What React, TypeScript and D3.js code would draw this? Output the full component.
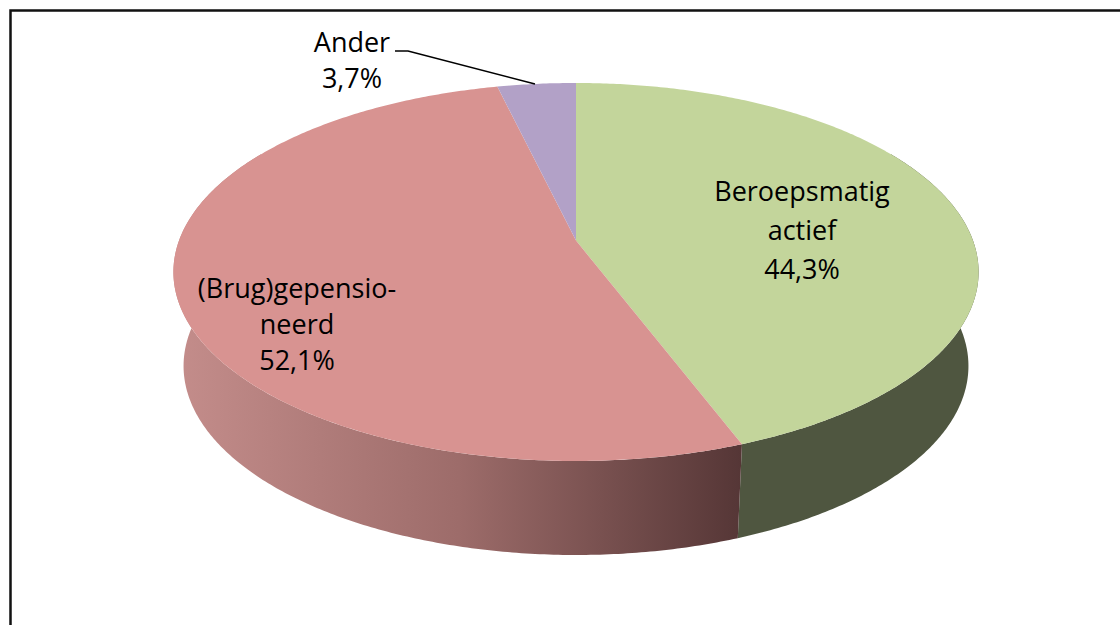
import React from 'react'
import * as d3 from 'd3'

// slice data (Excel 3D pie, starting at 12 o'clock, clockwise)
const labels = ['Beroepsmatig actief', '(Brug)gepensioneerd', 'Ander']
const values = [44.3, 52.1, 3.7]
const valueText = ['44,3%', '52,1%', '3,7%']
const labelLines = [['Beroepsmatig', 'actief'], ['(Brug)gepensio-', 'neerd'], ['Ander']]
const topColors = ['#c3d59b', '#d89391', '#b2a1c7']

const W = 1120
const H = 625

// perspective projection of the unit circle: front (v > 0) is enlarged
const k = 0.166
type Face = { cx: number; cy: number; rx: number; ry: number }
const top: Face = { cx: 576, cy: 240.6, rx: 397, ry: 183.8 }
const bot: Face = { cx: 576, cy: 334.6, rx: 387, ry: 183.8 }

const pt = (e: Face, a: number): [number, number] => {
  const u = Math.sin(a)
  const v = -Math.cos(a)
  const s = 1 / (1 - k * v)
  return [e.cx + e.rx * u * s, e.cy + e.ry * v * s]
}

const arcPoints = (e: Face, a0: number, a1: number) => {
  const n = Math.max(2, Math.ceil(Math.abs(a1 - a0) / 0.01))
  return d3.range(n + 1).map(i => pt(e, a0 + (a1 - a0) * i / n))
}

const line = d3.line()

const App = () => {
  const pie = d3.pie<number>().sort(null).value(d => d)
  const arcs = pie(values)

  // visible wall range: the front half, a little wider for the perspective
  const wallMin = Math.PI * 0.33
  const wallMax = Math.PI * 1.67

  const walls = arcs.map((a, i) => {
    const a0 = Math.max(a.startAngle, wallMin)
    const a1 = Math.min(a.endAngle, wallMax)
    if (a1 <= a0) return null
    const pts = [...arcPoints(top, a0, a1), ...arcPoints(bot, a1, a0)]
    return { i, d: line(pts) + 'Z' }
  }).filter(Boolean) as { i: number; d: string }[]

  const wallFill = ['#4f5640', 'url(#pinkSide)', '#5f5470']

  const apex: [number, number] = [top.cx, top.cy] // centre of the disc
  const tops = arcs.map((a, i) => {
    const pts: [number, number][] = [apex, ...arcPoints(top, a.startAngle, a.endAngle)]
    return { i, d: line(pts) + 'Z' }
  })

  const font = "'Open Sans', sans-serif"
  const fs = 27

  return (
    <svg width={W} height={H} style={{ position: 'absolute', left: 0, top: 0, background: '#fff' }}>
      <defs>
        <linearGradient id='pinkSide' gradientUnits='userSpaceOnUse' x1={175} y1={0} x2={742} y2={0}>
          <stop offset='0' stopColor='#c48d8b' />
          <stop offset='0.5' stopColor='#9d6c6a' />
          <stop offset='1' stopColor='#553636' />
        </linearGradient>
      </defs>

      {/* chart frame */}
      <rect x={10.5} y={10.5} width={W + 20} height={H + 20} fill='none' stroke='#111' strokeWidth={2.5} />

      {walls.map(w => (
        <path key={`w${w.i}`} d={w.d} fill={wallFill[w.i]} />
      ))}
      {tops.map(t => (
        <path key={`t${t.i}`} d={t.d} fill={topColors[t.i]} />
      ))}

      {/* labels */}
      <g fontFamily={font} fontSize={fs} fill='#000' textAnchor='middle'>
        <text x={802} y={201}>
          <tspan x={802}>{labelLines[0][0]}</tspan>
          <tspan x={802} dy={39}>{labelLines[0][1]}</tspan>
          <tspan x={802} dy={39}>{valueText[0]}</tspan>
        </text>
        <text x={297} y={298}>
          <tspan x={297}>{labelLines[1][0]}</tspan>
          <tspan x={297} dy={36}>{labelLines[1][1]}</tspan>
          <tspan x={297} dy={36}>{valueText[1]}</tspan>
        </text>
        <text x={352} y={52}>
          <tspan x={352}>{labelLines[2][0]}</tspan>
          <tspan x={352} dy={36}>{valueText[2]}</tspan>
        </text>
      </g>
      <polyline points='395,51 408,51 535,84' fill='none' stroke='#000' strokeWidth={1.5} />
      <title>{labels.join(', ')}</title>
    </svg>
  )
}

export default App
